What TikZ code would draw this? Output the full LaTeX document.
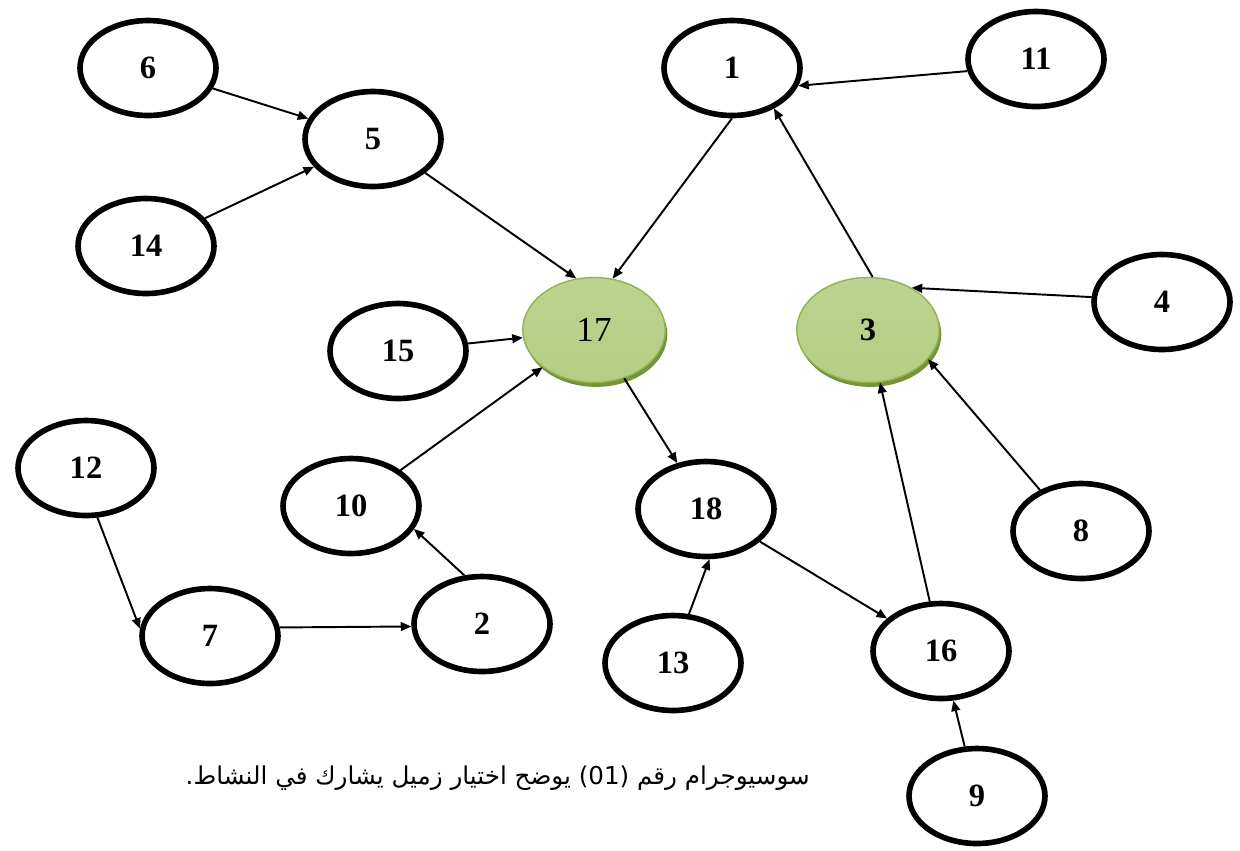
\documentclass[tikz,border=0pt]{standalone}
\usepackage{fontspec}
\setmainfont{Liberation Serif}
\newfontfamily\arabicfont[Script=Arabic]{DejaVu Sans}
\TeXXeTstate=1
\usetikzlibrary{arrows.meta,shapes.geometric,shadows}
\definecolor{leaf}{HTML}{92B44E}
\definecolor{leaflight}{HTML}{BDD391}
\definecolor{leafdark}{HTML}{76923C}
\begin{document}
\begin{tikzpicture}[x=0.02cm, y=-0.02cm,
    person/.style={ellipse, draw, line width=3.2pt, minimum width=2.72cm, minimum height=1.9cm,
        font=\fontsize{18.5}{20}\selectfont\bfseries},
    chosen/.style={ellipse, draw=leaf, line width=0.8pt, top color=leaflight, middle color=leaf,
        bottom color=leaflight!80!leaf, minimum width=2.85cm, minimum height=2.1cm,
        font=\fontsize{20}{22}\selectfont,
        drop shadow={fill=leafdark, opacity=1, shadow xshift=1.2pt, shadow yshift=-2.5pt}},
    link/.style={-{Triangle[length=6pt,width=5pt]}, line width=1.1pt}
]
    \useasboundingbox (0,0) rectangle (1240,850);

    \node[chosen] (n17) at (594,330) {17};
    \node[chosen] (n3) at (868,330) {\fontsize{18.5}{20}\selectfont\bfseries 3};

    \node[person] (n6) at (148,68) {6};
    \node[person] (n5) at (373,139) {5};
    \node[person] (n14) at (146,246) {14};
    \node[person] (n1) at (732,68) {1};
    \node[person] (n11) at (1036,59) {11};
    \node[person] (n4) at (1162,302) {4};
    \node[person] (n15) at (398,351) {15};
    \node[person] (n12) at (86,468) {12};
    \node[person] (n10) at (351,506) {10};
    \node[person] (n18) at (706,509) {18};
    \node[person] (n8) at (1081,531) {8};
    \node[person] (n7) at (210,636) {7};
    \node[person] (n2) at (482,624) {2};
    \node[person] (n13) at (673,663) {13};
    \node[person] (n16) at (941,651) {16};
    \node[person] (n9) at (977,796) {9};

    \draw[link] (n6) -- (n5);
    \draw[link] (n14) -- (n5);
    \draw[link] (n5.-33) -- (n17.109);
    \draw[link] (n1.south) -- (n17.70);
    \draw[link] (n11.190) -- (n1.-15);
    \draw[link] (n3.85) -- (n1.-44);
    \draw[link] (n4.176) -- (n3.44);
    \draw[link] (n8.135) -- (n3.-26);
    \draw[link] (n16) -- (n3);
    \draw[link] (n15) -- (n17);
    \draw[link] (n10) -- (n17);
    \draw[link] (n2.110) -- (n10.-20);
    \draw[link] (n12.-77) -- (n7.174);
    \draw[link] (n7.7) -- (n2.182);
    \draw[link] (n17) -- (n18);
    \draw[link] (n13.72) -- (n18.-86);
    \draw[link] (n18) -- (n16);
    \draw[link] (n9) -- (n16);

    \node[anchor=east, font=\fontsize{14}{17}\selectfont] (caption) at (816,778)
        {\arabicfont\beginR سوسيوجرام  رقم \beginL(01)\endL{} يوضح اختيار زميل يشارك في النشاط.\endR};
\end{tikzpicture}
\end{document}
